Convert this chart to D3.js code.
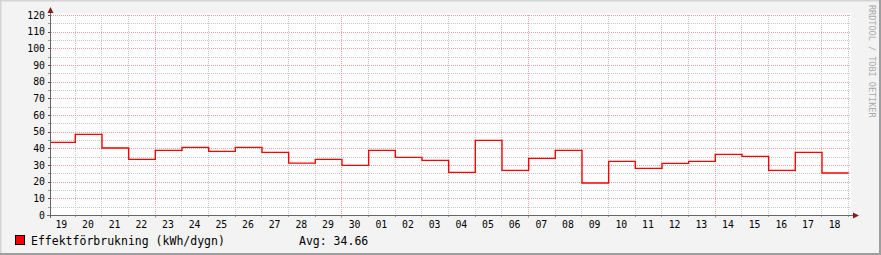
<!DOCTYPE html>
<html>
<head>
<meta charset="utf-8">
<script src="https://cdn.jsdelivr.net/npm/d3@7"></script>
<style>
  html, body { margin: 0; padding: 0; background: #f3f3f3; }
  svg { display: block; font-family: "DejaVu Sans Mono", monospace; }
</style>
</head>
<body>
<div id="chart"></div>
<script>
// Daily energy use, one value per day (19 Sep .. 18 Oct)
const days = ["2013-09-19","2013-09-20","2013-09-21","2013-09-22","2013-09-23","2013-09-24",
  "2013-09-25","2013-09-26","2013-09-27","2013-09-28","2013-09-29","2013-09-30",
  "2013-10-01","2013-10-02","2013-10-03","2013-10-04","2013-10-05","2013-10-06",
  "2013-10-07","2013-10-08","2013-10-09","2013-10-10","2013-10-11","2013-10-12",
  "2013-10-13","2013-10-14","2013-10-15","2013-10-16","2013-10-17","2013-10-18"];
const values = [43.6, 48.4, 40.2, 33.4, 38.8, 40.6, 38.2, 40.6, 37.6, 31.1,
  33.4, 29.8, 38.8, 34.6, 32.8, 25.6, 44.8, 26.8, 34.0, 38.8,
  19.2, 32.2, 28.0, 31.0, 32.2, 36.4, 35.2, 26.8, 37.6, 25.2];
const yTicks = [0, 10, 20, 30, 40, 50, 60, 70, 80, 90, 100, 110, 120];
const seriesLabel = "Effektförbrukning (kWh/dygn)";
const avgLabel = "Avg: 34.66";

const W = 881, H = 255;
const plot = { left: 51, right: 851, top: 15, bottom: 215 };

const parse = d3.timeParse("%Y-%m-%d");
const data = days.map((d, i) => ({ date: parse(d), value: values[i] }));
// closing point so the last step runs to the end of its day
data.push({ date: d3.timeDay.offset(data[data.length - 1].date, 1), value: values[values.length - 1] });

// 30 day window, starting a little after midnight of the first day
const start = new Date(2013, 8, 19, 2, 45);
const end = d3.timeDay.offset(start, 30);

const x = d3.scaleTime().domain([start, end]).range([plot.left, plot.right]);
const y = d3.scaleLinear().domain([0, 120]).range([plot.bottom, plot.top]);

const svg = d3.select("#chart").append("svg")
  .attr("width", W).attr("height", H);

// frame with 3D-ish border
svg.append("rect").attr("width", W).attr("height", H).attr("fill", "#f3f3f3");
svg.append("path").attr("d", `M0.5,${H} V0.5 H${W}`).attr("fill", "none").attr("stroke", "#d4d4d4").attr("stroke-width", 2);
svg.append("path").attr("d", `M0,${H - 1} H${W - 1} V0`).attr("fill", "none").attr("stroke", "#9e9e9e").attr("stroke-width", 2);

// plot canvas
svg.append("rect")
  .attr("x", plot.left).attr("y", plot.top - 2)
  .attr("width", plot.right - plot.left).attr("height", plot.bottom - plot.top + 2)
  .attr("fill", "#ffffff");

const grid = svg.append("g").attr("shape-rendering", "crispEdges");

// horizontal grid: minor every 5, major every 10
const hMinor = d3.range(5, 121, 5).filter(v => v % 10 !== 0);
grid.selectAll(".hminor").data(hMinor).enter().append("line")
  .attr("x1", plot.left).attr("x2", plot.right)
  .attr("y1", d => Math.round(y(d)) + 0.5).attr("y2", d => Math.round(y(d)) + 0.5)
  .attr("stroke", "#c8c8c8").attr("stroke-dasharray", "1,1");

// vertical grid: each day, Mondays in red
const dayLines = d3.timeDay.range(d3.timeDay.ceil(start), end);
grid.selectAll(".vminor").data(dayLines.filter(d => d.getDay() !== 1)).enter().append("line")
  .attr("x1", d => Math.round(x(d)) + 0.5).attr("x2", d => Math.round(x(d)) + 0.5)
  .attr("y1", plot.top).attr("y2", plot.bottom)
  .attr("stroke", "#c8c8c8").attr("stroke-dasharray", "1,1");

grid.selectAll(".hmajor").data(yTicks.filter(v => v > 0)).enter().append("line")
  .attr("x1", plot.left).attr("x2", plot.right)
  .attr("y1", d => Math.round(y(d)) + 0.5).attr("y2", d => Math.round(y(d)) + 0.5)
  .attr("stroke", "#eaa0a0").attr("stroke-dasharray", "1,1");

grid.selectAll(".vmajor").data(dayLines.filter(d => d.getDay() === 1)).enter().append("line")
  .attr("x1", d => Math.round(x(d)) + 0.5).attr("x2", d => Math.round(x(d)) + 0.5)
  .attr("y1", plot.top).attr("y2", plot.bottom + 4)
  .attr("stroke", "#eaa0a0").attr("stroke-dasharray", "1,1");

// small ticks on the axes
grid.selectAll(".ytick").data(d3.range(0, 121, 5)).enter().append("line")
  .attr("x1", plot.left - 3).attr("x2", plot.left)
  .attr("y1", d => Math.round(y(d)) + 0.5).attr("y2", d => Math.round(y(d)) + 0.5)
  .attr("stroke", d => d % 10 === 0 ? "#555" : "#999");
grid.selectAll(".xtick").data(dayLines).enter().append("line")
  .attr("x1", d => Math.round(x(d)) + 0.5).attr("x2", d => Math.round(x(d)) + 0.5)
  .attr("y1", plot.bottom).attr("y2", plot.bottom + 2)
  .attr("stroke", d => d.getDay() === 1 ? "#d08080" : "#999");

// the data line
svg.append("clipPath").attr("id", "clip")
  .append("rect").attr("x", plot.left).attr("y", 0)
  .attr("width", plot.right - plot.left).attr("height", H);

const line = d3.line()
  .x(d => x(d.date) + 0.7)
  .y(d => y(d.value))
  .curve(d3.curveStepAfter);

svg.append("path")
  .datum(data)
  .attr("clip-path", "url(#clip)")
  .attr("d", line)
  .attr("fill", "none")
  .attr("stroke", "#ff0000")
  .attr("stroke-width", 1.4);

// axes lines and arrows
const axisCol = "#666";
svg.append("line").attr("x1", plot.left - 0.5).attr("x2", plot.left - 0.5)
  .attr("y1", plot.bottom + 3).attr("y2", plot.top - 4)
  .attr("stroke", axisCol).attr("shape-rendering", "crispEdges");
svg.append("line").attr("x1", plot.left - 4).attr("x2", plot.right + 4)
  .attr("y1", plot.bottom + 0.5).attr("y2", plot.bottom + 0.5)
  .attr("stroke", axisCol).attr("shape-rendering", "crispEdges");
svg.append("path")
  .attr("d", `M${plot.left - 3.5},${plot.top - 2} L${plot.left + 2.5},${plot.top - 2} L${plot.left - 0.5},${plot.top - 8} Z`)
  .attr("fill", "#8b1a1a");
svg.append("path")
  .attr("d", `M${plot.right + 2},${plot.bottom - 2.5} L${plot.right + 2},${plot.bottom + 3.5} L${plot.right + 8},${plot.bottom + 0.5} Z`)
  .attr("fill", "#8b1a1a");

// y labels
svg.append("g").selectAll("text").data(yTicks).enter().append("text")
  .attr("x", plot.left - 6).attr("y", d => y(d))
  .attr("dy", "0.36em")
  .attr("text-anchor", "end")
  .attr("font-size", "9.8px")
  .attr("fill", "#000")
  .text(d => d);

// x labels at noon of each day
const noons = d3.timeDay.range(d3.timeDay.floor(start), end)
  .map(d => d3.timeHour.offset(d, 12))
  .filter(d => d >= start && d <= end);
const fmt = d3.timeFormat("%d");
svg.append("g").selectAll("text").data(noons).enter().append("text")
  .attr("x", d => x(d)).attr("y", plot.bottom + 13)
  .attr("text-anchor", "middle")
  .attr("font-size", "9.8px")
  .attr("fill", "#000")
  .text(d => fmt(d));

// legend
svg.append("rect").attr("x", 15.5).attr("y", 235.5).attr("width", 9).attr("height", 9)
  .attr("fill", "#ff0000").attr("stroke", "#000");
svg.append("text").attr("x", 31).attr("y", 244.5)
  .attr("font-size", "11.5px").attr("fill", "#000")
  .text(seriesLabel);
svg.append("text").attr("x", 299).attr("y", 244.5)
  .attr("font-size", "11.5px").attr("fill", "#000")
  .attr("xml:space", "preserve")
  .text(avgLabel);

// watermark
svg.append("text")
  .attr("transform", "translate(869,5) rotate(90)")
  .attr("font-size", "8.5px").attr("fill", "#aaa")
  .text("RRDTOOL / TOBI OETIKER");
</script>
</body>
</html>
